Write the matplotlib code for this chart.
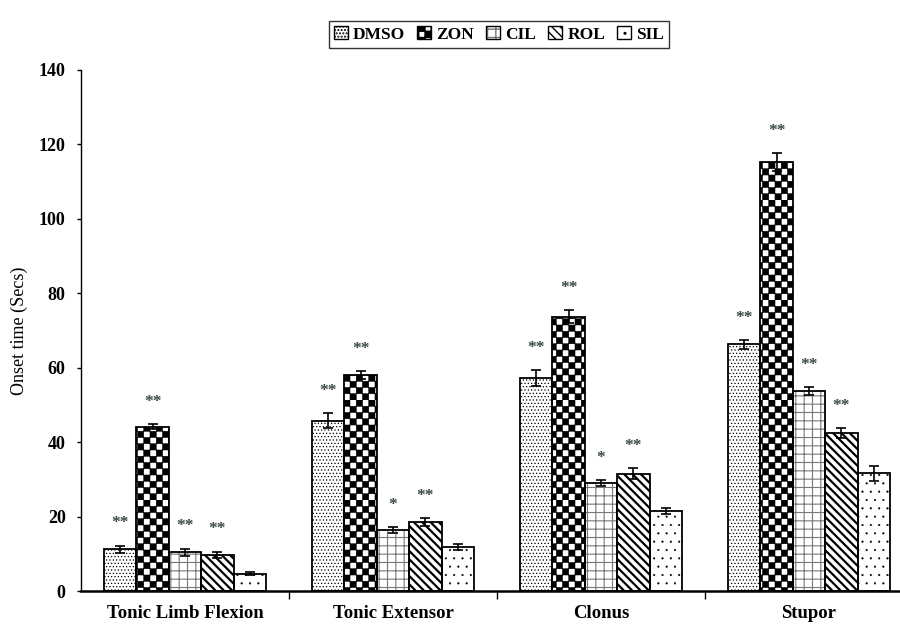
import matplotlib
matplotlib.use("Agg")
import matplotlib.pyplot as plt
import matplotlib.hatch as mhatch
from matplotlib.path import Path
from matplotlib.patches import Patch
from matplotlib.legend_handler import HandlerTuple
import numpy as np

categories = ["Tonic Limb Flexion", "Tonic Extensor", "Clonus", "Stupor"]
groups = ["DMSO", "ZON", "CIL", "ROL", "SIL"]

dmso = [11.2, 45.8, 57.2, 66.3]
zon = [44.2, 58.0, 73.7, 115.2]
cil = [10.4, 16.3, 29.0, 53.7]
rol = [9.8, 18.5, 31.5, 42.4]
sil = [4.6, 11.8, 21.6, 31.6]

dmso_err = [1.0, 2.0, 2.2, 1.2]
zon_err = [0.7, 1.0, 1.8, 2.4]
cil_err = [1.0, 0.8, 0.8, 1.1]
rol_err = [0.8, 1.0, 1.5, 1.3]
sil_err = [0.4, 0.7, 0.8, 2.0]

dmso_sig = ["**", "**", "**", "**"]
zon_sig = ["**", "**", "**", "**"]
cil_sig = ["**", "*", "*", "**"]
rol_sig = ["**", "**", "**", "**"]
sil_sig = ["", "", "", ""]

yticks = [0, 20, 40, 60, 80, 100, 120, 140]


# checkerboard hatch, takes the place of 'o' (small circles)
class CheckerHatch(mhatch.HatchPatternBase):
    def __init__(self, hatch, density):
        self.n = hatch.count('o') * 16
        self.num_vertices = (self.n * self.n // 2) * 5

    def set_vertices_and_codes(self, vertices, codes):
        s = 1.0 / self.n
        k = 0
        for i in range(self.n):
            for j in range(self.n):
                if (i + j) % 2 == 0:
                    x, y = i * s, j * s
                    vertices[k:k + 5] = [(x, y), (x + s, y), (x + s, y + s), (x, y + s), (x, y)]
                    codes[k:k + 5] = [Path.MOVETO, Path.LINETO, Path.LINETO, Path.LINETO, Path.CLOSEPOLY]
                    k += 5


mhatch._hatch_types = [CheckerHatch if t is mhatch.SmallCircles else t for t in mhatch._hatch_types]

plt.rcParams['font.family'] = ['Liberation Serif', 'DejaVu Serif']
plt.rcParams['font.weight'] = 'bold'

values = [dmso, zon, cil, rol, sil]
errs = [dmso_err, zon_err, cil_err, rol_err, sil_err]
sigs = [dmso_sig, zon_sig, cil_sig, rol_sig, sil_sig]
hatches = ['.....', 'o', '++', '\\\\\\\\', '..']
hatch_cols = ['black', 'black', '#777777', 'black', 'black']
hatch_lw = [0.5, 0.4, 0.8, 1.6, 0.3]

fig = plt.figure(figsize=(9, 6.28), dpi=100)
ax = fig.add_axes([81 / 900, 1 - 591 / 628, (900 - 81) / 900, (591 - 70) / 628])

x = np.arange(len(categories))
w = 0.156
handles = []
for i, g in enumerate(groups):
    pos = x + (i - 2) * w
    with plt.rc_context({'hatch.linewidth': hatch_lw[i]}):
        bars = ax.bar(pos, values[i], w, color='white', edgecolor=hatch_cols[i],
                      hatch=hatches[i], linewidth=0, zorder=2)
        for b in bars:
            if hasattr(b, 'set_hatch_linewidth'):
                b.set_hatch_linewidth(hatch_lw[i])
        ax.bar(pos, values[i], w, fill=False, edgecolor='black', linewidth=1.3, zorder=3)
        hp = Patch(facecolor='white', edgecolor=hatch_cols[i], hatch=hatches[i], linewidth=0)
        if hasattr(hp, 'set_hatch_linewidth'):
            hp.set_hatch_linewidth(hatch_lw[i])
    ho = Patch(fill=False, edgecolor='black', linewidth=1.0)
    handles.append((hp, ho))
    ax.errorbar(pos, values[i], yerr=errs[i], fmt='none', ecolor='black',
                elinewidth=1.2, capsize=3.5, capthick=1.2, zorder=4)
    for p, v, e, s in zip(pos, values[i], errs[i], sigs[i]):
        if s:
            ax.annotate(s, (p, v + e), xytext=(0, 16), textcoords='offset points',
                        ha='center', va='center', fontsize=12.5, color='#3a4848')

ax.set_ylim(0, 140)
ax.set_yticks(yticks)
ax.set_xlim(-0.5, -0.5 + 819 / 208)
ax.set_xticks(x)
ax.set_xticklabels(categories, fontsize=13.5)
ax.set_xticks([0.5, 1.5, 2.5], minor=True)
ax.tick_params(axis='x', which='major', length=0, pad=10)
ax.tick_params(axis='x', which='minor', length=6, direction='out', width=1)
ax.tick_params(axis='y', length=3, direction='out', width=1, labelsize=13, pad=8)
ax.set_ylabel('Onset time (Secs)', fontsize=13, labelpad=8)
ax.spines['top'].set_visible(False)
ax.spines['right'].set_visible(False)
ax.spines['bottom'].set_linewidth(1.8)
ax.spines['left'].set_linewidth(1.0)

leg = fig.legend(handles, groups, loc='upper center', bbox_to_anchor=(499 / 900, 1 - 12 / 628),
                 ncol=5, frameon=True, fancybox=False, edgecolor='black',
                 handlelength=0.8, handleheight=0.8, handletextpad=0.3, columnspacing=0.7,
                 borderpad=0.3, fontsize=12.5, handler_map={tuple: HandlerTuple(ndivide=1, pad=0)})
leg.get_frame().set_linewidth(1.0)

fig.savefig('out.png', dpi=100)
